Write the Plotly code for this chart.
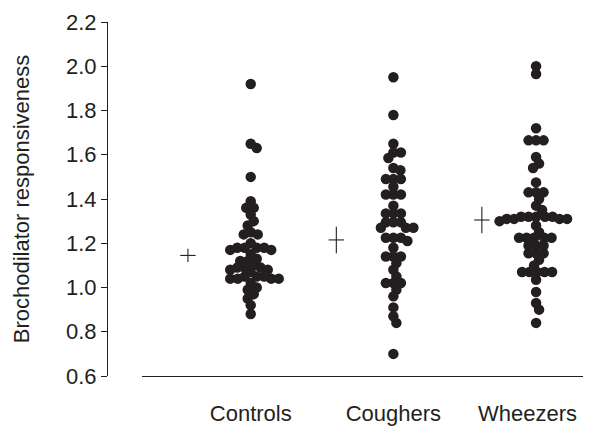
import plotly.graph_objects as go
import numpy as np

categories = ["Controls", "Coughers", "Wheezers"]

controls = [1.92, 1.65, 1.63, 1.50, 1.39, 1.36, 1.36, 1.33, 1.30, 1.28, 1.25, 1.24, 1.24,
            1.20, 1.18, 1.18, 1.18, 1.18, 1.17, 1.17, 1.15, 1.13, 1.12, 1.12, 1.10, 1.09,
            1.09, 1.09, 1.08, 1.08, 1.07, 1.05, 1.05, 1.05, 1.04, 1.04, 1.04, 1.04, 1.02,
            1.00, 0.99, 0.97, 0.95, 0.92, 0.88]
coughers = [1.95, 1.78, 1.65, 1.61, 1.61, 1.585, 1.54, 1.53, 1.49, 1.49, 1.49, 1.455,
            1.42, 1.42, 1.42, 1.37, 1.335, 1.335, 1.335, 1.295, 1.295, 1.295, 1.27, 1.27,
            1.27, 1.225, 1.225, 1.225, 1.21, 1.18, 1.14, 1.14, 1.14, 1.11, 1.08, 1.05,
            1.02, 1.02, 1.02, 0.99, 0.96, 0.91, 0.87, 0.84, 0.70]
wheezers = [2.00, 1.965, 1.72, 1.665, 1.665, 1.665, 1.59, 1.56, 1.54, 1.475, 1.43, 1.43,
            1.43, 1.40, 1.37, 1.35, 1.32, 1.32, 1.32, 1.32, 1.32, 1.31, 1.31, 1.31, 1.31,
            1.30, 1.28, 1.25, 1.225, 1.225, 1.225, 1.225, 1.225, 1.19, 1.19, 1.19, 1.155,
            1.155, 1.155, 1.125, 1.10, 1.07, 1.07, 1.07, 1.07, 1.07, 1.035, 0.98, 0.93,
            0.90, 0.84]
groups = [controls, coughers, wheezers]

means = [1.145, 1.215, 1.305]
sems = [0.03, 0.06, 0.06]

tick_vals = [0.6, 0.8, 1.0, 1.2, 1.4, 1.6, 1.8, 2.0, 2.2]
tick_text = ["0.6", "0.8", "1.0", "1.2", "1.4", "1.6", "1.8", "2.0", "2.2"]

# layout geometry (pixels); the page body adds an 8px offset
PAD = 8
W, H = 593 - PAD, 426 - PAD
ml, mr, mt, mb = 107 - PAD, 10, 22 - PAD, 50
plot_w = W - ml - mr
plot_h = H - mt - mb
y_range = [0.6, 2.2]
x_range = [0.238, 3.329]
xdom0 = (142 - 107) / plot_w
px_per_y = plot_h / (y_range[1] - y_range[0])
px_per_x = plot_w * (1 - xdom0) / (x_range[1] - x_range[0])


def swarm(vals, dmin=7.2):
    placed = []
    offs = [0.0] * len(vals)
    order = sorted(range(len(vals)), key=lambda i: -vals[i])
    for i in order:
        y = vals[i] * px_per_y
        cands = [0.0]
        for k in range(1, 80):
            cands += [k * 0.5, -k * 0.5]
        for c in cands:
            ok = True
            for (px, py) in placed:
                if (px - c) ** 2 + (py - y) ** 2 < dmin ** 2:
                    ok = False
                    break
            if ok:
                offs[i] = c
                placed.append((c, y))
                break
    return [o / px_per_x for o in offs]


fig = go.Figure()
dot_color = "#231f20"
for gi, vals in enumerate(groups):
    xo = swarm(vals)
    fig.add_trace(go.Scatter(
        x=[gi + 1 + o for o in xo], y=vals, mode="markers",
        marker=dict(color=dot_color, size=10.5, line=dict(width=0)),
        showlegend=False, hoverinfo="y"))

mean_offsets = [-0.44, -0.40, -0.38]
fig.add_trace(go.Scatter(
    x=[i + 1 + mean_offsets[i] for i in range(3)], y=means, mode="markers",
    marker=dict(symbol="line-ew", size=11, line=dict(width=1.1, color=dot_color)),
    error_y=dict(type="data", array=sems, width=0, thickness=1.1, color=dot_color),
    showlegend=False))

fig.update_layout(
    width=W, height=H,
    margin=dict(l=ml, r=mr, t=mt, b=mb),
    plot_bgcolor="white", paper_bgcolor="white",
    font=dict(family="Liberation Sans, Arial, sans-serif", size=22, color="#231f20"),
    xaxis=dict(range=x_range, domain=[xdom0, 1], showgrid=False, zeroline=False,
               showline=True, linecolor=dot_color, linewidth=1, automargin=False,
               tickvals=[1, 2, 2.94], ticktext=categories, ticks="",
               ticklabelstandoff=18, tickfont=dict(size=22)),
    yaxis=dict(range=y_range, showgrid=False, zeroline=False, showline=True,
               linecolor=dot_color, linewidth=1, anchor="free", position=0,
               automargin=False,
               tickvals=tick_vals, ticktext=tick_text, ticks="outside",
               ticklen=6, tickcolor=dot_color, tickfont=dict(size=22),
               title=dict(text="Brochodilator responsiveness", standoff=29,
                          font=dict(size=22))),
)

fig.write_html("out.html")
